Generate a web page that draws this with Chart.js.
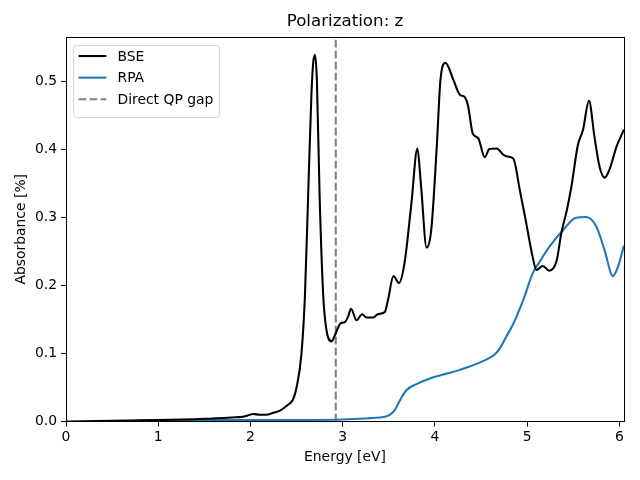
<!DOCTYPE html>
<html>
<head>
<meta charset="utf-8">
<script src="https://cdn.jsdelivr.net/npm/chart.js@4"></script>
<style>
    html, body { margin: 0; padding: 0; background: white; }
    #box { width: 640px; height: 480px; }
</style>
</head>
<body>
<div id="box"><canvas id="spectrumChart"></canvas></div>
<script>
// Values
var bseEnergy = [0, 0.5, 1.0, 1.5, 1.8, 1.92, 1.97, 2.03, 2.1, 2.17, 2.25, 2.32, 2.4, 2.46, 2.5, 2.553, 2.59, 2.625, 2.66, 2.68, 2.7, 2.72, 2.75, 2.79, 2.825, 2.88, 2.925, 2.98, 3.02, 3.06, 3.09, 3.15, 3.21, 3.26, 3.33, 3.38, 3.456, 3.49, 3.55, 3.61, 3.67, 3.745, 3.81, 3.85, 3.91, 3.96, 4.02, 4.06, 4.115, 4.2, 4.27, 4.32, 4.36, 4.41, 4.47, 4.54, 4.59, 4.67, 4.74, 4.79, 4.85, 4.92, 4.99, 5.06, 5.1, 5.17, 5.24, 5.32, 5.37, 5.43, 5.48, 5.55, 5.605, 5.67, 5.73, 5.785, 5.84, 5.89, 5.97, 6.05];
var bseAbs = [0, 0.001, 0.002, 0.004, 0.006, 0.007, 0.009, 0.011, 0.010, 0.010, 0.013, 0.016, 0.024, 0.032, 0.050, 0.100, 0.183, 0.331, 0.478, 0.528, 0.540, 0.503, 0.331, 0.183, 0.134, 0.118, 0.130, 0.145, 0.146, 0.155, 0.166, 0.149, 0.158, 0.153, 0.153, 0.158, 0.161, 0.178, 0.214, 0.204, 0.233, 0.321, 0.402, 0.346, 0.256, 0.282, 0.405, 0.503, 0.528, 0.503, 0.481, 0.478, 0.464, 0.424, 0.417, 0.389, 0.401, 0.402, 0.393, 0.390, 0.387, 0.341, 0.292, 0.242, 0.223, 0.229, 0.222, 0.237, 0.277, 0.311, 0.346, 0.407, 0.429, 0.472, 0.419, 0.375, 0.359, 0.370, 0.405, 0.430];

var rpaEnergy = [0.75, 1.0, 2.0, 3.0, 3.3, 3.4, 3.5, 3.56, 3.62, 3.69, 3.8, 3.96, 4.14, 4.27, 4.49, 4.65, 4.7, 4.77, 4.85, 4.955, 5.06, 5.135, 5.24, 5.39, 5.53, 5.64, 5.75, 5.84, 5.93, 5.985, 6.05];
var rpaAbs = [0.001, 0.002, 0.002, 0.003, 0.005, 0.006, 0.009, 0.016, 0.031, 0.046, 0.055, 0.064, 0.071, 0.076, 0.087, 0.099, 0.107, 0.124, 0.144, 0.178, 0.218, 0.235, 0.257, 0.282, 0.300, 0.301, 0.287, 0.252, 0.214, 0.228, 0.259];

var gapEnergy = 2.925;
var xTicks = [0, 1, 2, 3, 4, 5, 6];
var yTicks = [0.0, 0.1, 0.2, 0.3, 0.4, 0.5];
var xMax = 6.05;
var yMax = 0.566;

function toPoints(xs, ys) {
    return xs.map(function (x, i) { return { x: x, y: ys[i] }; });
}

Chart.defaults.font.family = 'DejaVu Sans';
Chart.defaults.color = 'black';

// matplotlib style legend + frame, drawn inside the axes
var mplLegend = {
    id: 'mplLegend',
    afterDraw: function (chart) {
        var ctx = chart.ctx;
        var area = chart.chartArea;
        ctx.save();
        ctx.strokeStyle = 'black';
        ctx.lineWidth = 1;
        ctx.strokeRect(Math.round(area.left) + 0.5, Math.round(area.top) + 0.5,
            Math.round(area.right - area.left), Math.round(area.bottom - area.top));

        var fs = 13.9;
        ctx.font = fs + 'px "DejaVu Sans"';
        var sets = chart.data.datasets;
        var textW = 0;
        sets.forEach(function (d) { textW = Math.max(textW, ctx.measureText(d.label).width); });
        var x0 = area.left + 7, y0 = area.top + 8;
        var w = 0.4 * fs + 2 * fs + 0.8 * fs + textW + 0.4 * fs;
        var rowH = 21.6;
        var h = sets.length * rowH + 0.4 * fs * 2 - 4;
        ctx.beginPath();
        ctx.roundRect(x0 + 0.5, y0 + 0.5, w, h, 3);
        ctx.fillStyle = 'rgba(255,255,255,0.8)';
        ctx.fill();
        ctx.strokeStyle = '#d6d6d6';
        ctx.lineWidth = 1;
        ctx.stroke();
        sets.forEach(function (d, i) {
            var cy = y0 + 11 + i * rowH;
            var lx = x0 + 0.4 * fs;
            ctx.beginPath();
            ctx.setLineDash(d.borderDash || []);
            ctx.strokeStyle = d.borderColor;
            ctx.lineWidth = d.borderWidth;
            ctx.moveTo(lx, cy);
            ctx.lineTo(lx + 2 * fs, cy);
            ctx.stroke();
            ctx.setLineDash([]);
            ctx.fillStyle = 'black';
            ctx.textBaseline = 'middle';
            ctx.fillText(d.label, lx + 2.8 * fs, cy + 1);
        });
        ctx.restore();
    }
};

var ctx = document.getElementById('spectrumChart').getContext('2d');
var spectrumChart = new Chart(ctx, {
    type: 'line',
    data: {
        datasets: [
            {
                label: 'BSE',
                data: toPoints(bseEnergy, bseAbs),
                borderColor: 'black',
                borderWidth: 2.08,
                pointRadius: 0,
                cubicInterpolationMode: 'monotone'
            },
            {
                label: 'RPA',
                data: toPoints(rpaEnergy, rpaAbs),
                borderColor: '#1f77b4',
                borderWidth: 2.08,
                pointRadius: 0,
                cubicInterpolationMode: 'monotone'
            },
            {
                label: 'Direct QP gap',
                data: [{ x: gapEnergy, y: 0 }, { x: gapEnergy, y: yMax }],
                borderColor: 'gray',
                borderWidth: 2.08,
                borderDash: [7.7, 3.3],
                pointRadius: 0
            }
        ]
    },
    options: {
        responsive: true,
        maintainAspectRatio: false,
        animation: false,
        layout: {
            padding: { left: 0, right: 16, top: 0, bottom: 0 }
        },
        scales: {
            x: {
                type: 'linear',
                min: 0,
                max: xMax,
                afterFit: function (scale) { scale.height = 58.5; },
                afterBuildTicks: function (scale) {
                    scale.ticks = xTicks.map(function (v) { return { value: v }; });
                },
                ticks: {
                    font: { size: 13.9 },
                    padding: 3,
                    maxRotation: 0,
                    callback: function (value) { return value; }
                },
                grid: {
                    drawOnChartArea: false,
                    tickLength: 5,
                    tickColor: 'black'
                },
                border: { color: 'black' },
                title: {
                    display: true,
                    text: 'Energy [eV]',
                    font: { size: 13.9 },
                    padding: { bottom: 14 }
                }
            },
            y: {
                min: 0,
                max: yMax,
                afterFit: function (scale) { scale.width = 66; },
                afterBuildTicks: function (scale) {
                    scale.ticks = yTicks.map(function (v) { return { value: v }; });
                },
                ticks: {
                    font: { size: 13.9 },
                    padding: 4,
                    callback: function (value) { return value.toFixed(1); }
                },
                grid: {
                    drawOnChartArea: false,
                    tickLength: 5,
                    tickColor: 'black'
                },
                border: { color: 'black' },
                title: {
                    display: true,
                    text: 'Absorbance [%]',
                    font: { size: 13.9 },
                    padding: { top: 13 }
                }
            }
        },
        plugins: {
            legend: { display: false },
            tooltip: { enabled: false },
            title: {
                display: true,
                text: 'Polarization: z',
                fullSize: false,
                color: 'black',
                font: { size: 16.7, weight: 'normal' },
                padding: { top: 12, bottom: 5 }
            }
        }
    },
    plugins: [mplLegend]
});
</script>
</body>
</html>
